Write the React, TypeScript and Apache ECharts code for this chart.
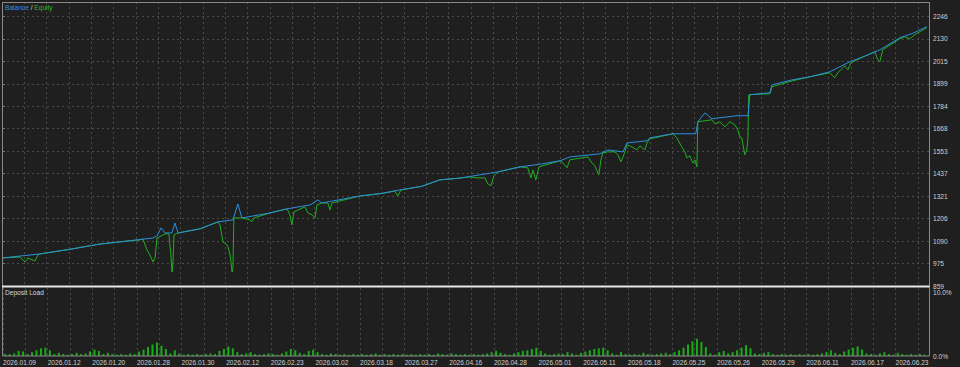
import React, { useEffect, useRef } from "react";
import * as echarts from "echarts";

const dateLabels = [
  "2026.01.09", "2026.01.12", "2026.01.20", "2026.01.28", "2026.01.30", "2026.02.12", "2026.02.23",
  "2026.03.02", "2026.03.18", "2026.03.27", "2026.04.16", "2026.04.28", "2026.05.01", "2026.05.11",
  "2026.05.18", "2026.05.25", "2026.05.26", "2026.05.29", "2026.06.11", "2026.06.17", "2026.06.23",
];

// balance curve: trade position / value
const balTrade = [0, 17, 30, 43.9, 55, 67.6, 69.4, 71.2, 73, 76.1, 77.4, 78.8, 88.6, 96.7, 103.4, 105.6, 107.4, 120, 127.6, 137.9, 141.4, 143.2, 160.2, 170, 178, 188, 196, 205, 214, 222, 232, 241, 249.8, 254.3, 267.7, 271.2, 278, 279.8, 288.7, 290, 300.3, 310.6, 311.5, 314.7, 317.8, 329, 334, 334.8, 343.8, 344.7, 354, 362, 370.6, 379.6, 386, 393, 402, 408, 414];
const balValue = [1003, 1024, 1047, 1075, 1089, 1106, 1116, 1158, 1132, 1132, 1183, 1132, 1153, 1189, 1199, 1281, 1209, 1235, 1256, 1276, 1302, 1286, 1322, 1335, 1353, 1372, 1405, 1414, 1431, 1446, 1472, 1486, 1503, 1523, 1539, 1559, 1549, 1595, 1606, 1621, 1642, 1642, 1704, 1750, 1719, 1735, 1735, 1843, 1853, 1894, 1920, 1936, 1961, 2013, 2040, 2074, 2136, 2160, 2193];

// equity curve: trade position / value
const eqTrade = [0, 8.1, 10.3, 11.6, 14.8, 16.1, 17, 30, 43.9, 48.3, 55, 61.8, 63.1, 64.9, 66.2, 67.6, 68.5, 69.4, 71.2, 73, 74.7, 75.6, 76.1, 76.5, 77, 78.8, 88.6, 96.7, 97.6, 98.9, 100.3, 101.2, 102.1, 102.5, 103, 103.4, 103.8, 107.4, 111, 111.9, 112.8, 120, 127.6, 128.9, 129.8, 130.7, 135.6, 137, 138.8, 140.1, 141, 143.2, 145.9, 146.8, 147.7, 160.2, 170, 175.9, 177.2, 178.6, 188, 196, 205, 209.5, 213.1, 216.2, 217.5, 218.9, 220.2, 222, 231.9, 235.4, 236.8, 237.7, 239, 240.4, 249.8, 251.1, 252.9, 254.2, 262.3, 264.1, 265.4, 267.2, 268.1, 269, 271.2, 274.4, 275.7, 277.1, 278.4, 279.8, 282, 284.2, 285.6, 287.8, 288.7, 290, 300.3, 302.1, 304.3, 305.7, 306.6, 307.9, 309.3, 310.2, 311.1, 311.5, 314.7, 317.8, 319.2, 321.4, 323.6, 325.9, 328.1, 329.4, 330.3, 331.2, 332.5, 333.4, 333.9, 334.3, 343.8, 344.7, 354, 362, 370.6, 372.8, 374.2, 377.3, 378.7, 380, 386, 390.7, 392.1, 393, 394.3, 401.9, 404.2, 406.4, 408.7, 414];
const eqValue = [1003, 1008, 983, 1003, 988, 1019, 1024, 1047, 1075, 1080, 1089, 1096, 1101, 1044, 1019, 983, 1003, 1106, 1116, 1127, 1127, 1019, 931, 967, 1122, 1132, 1153, 1189, 1173, 1086, 1075, 1060, 1019, 983, 931, 952, 1209, 1209, 1199, 1189, 1209, 1235, 1256, 1225, 1173, 1240, 1266, 1235, 1225, 1209, 1276, 1286, 1286, 1250, 1286, 1322, 1335, 1348, 1322, 1353, 1372, 1405, 1414, 1420, 1415, 1415, 1384, 1374, 1426, 1446, 1472, 1467, 1415, 1456, 1405, 1472, 1503, 1492, 1467, 1508, 1523, 1492, 1477, 1431, 1508, 1544, 1549, 1549, 1534, 1498, 1534, 1585, 1575, 1559, 1580, 1559, 1595, 1616, 1642, 1621, 1575, 1549, 1518, 1529, 1492, 1508, 1472, 1704, 1709, 1714, 1693, 1704, 1678, 1704, 1688, 1662, 1626, 1621, 1534, 1559, 1611, 1843, 1848, 1884, 1915, 1936, 1956, 1930, 1956, 1992, 1971, 2007, 2040, 2064, 2023, 2013, 2074, 2131, 2141, 2131, 2152, 2188];

// deposit load %, one bar per two trades
const loadValues = [
  0.3, 0.3, 0.4, 0.8, 0.7, 0.3, 0.6, 0.9, 1.2, 1.3,
  0.9, 0.3, 0.5, 0.3, 0.2, 0.3, 0.5, 0.3, 0.4, 0.7,
  1.0, 0.8, 0.3, 0.5, 0.3, 0.2, 0.3, 0.2, 0.4, 0.3,
  0.7, 1.0, 1.4, 1.8, 2.1, 1.6, 1.1, 0.4, 0.9, 0.4,
  0.2, 0.3, 0.2, 0.3, 0.2, 0.3, 0.4, 0.3, 0.8, 1.1,
  1.5, 1.2, 0.6, 0.3, 0.4, 0.6, 0.3, 0.2, 0.3, 0.4,
  0.3, 0.2, 0.4, 0.7, 1.1, 0.9, 0.5, 0.3, 0.8, 1.0,
  0.6, 0.3, 0.2, 0.4, 0.3, 0.2, 0.3, 0.2, 0.3, 0.2,
  0.3, 0.2, 0.3, 0.4, 0.2, 0.3, 0.2, 0.3, 0.2, 0.3,
  0.2, 0.3, 0.2, 0.3, 0.2, 0.3, 0.2, 0.4, 0.3, 0.2,
  0.4, 0.3, 0.2, 0.3, 0.2, 0.3, 0.2, 0.3, 0.4, 0.6,
  0.8, 0.5, 0.3, 0.2, 0.4, 0.6, 0.8, 0.9, 1.1, 1.3,
  0.8, 0.4, 0.2, 0.3, 0.4, 0.3, 0.6, 0.4, 0.2, 0.5,
  0.7, 0.9, 1.1, 1.2, 1.3, 0.9, 0.4, 0.2, 0.6, 0.3,
  0.2, 0.3, 0.2, 0.5, 0.3, 0.2, 0.3, 0.4, 0.5, 0.3,
  0.6, 0.9, 1.3, 1.8, 2.3, 2.7, 2.2, 1.4, 0.4, 0.2,
  0.6, 0.8, 0.4, 0.6, 0.9, 1.3, 1.7, 1.2, 0.4, 0.3,
  0.5, 0.6, 0.3, 0.2, 0.3, 0.2, 0.3, 0.2, 0.3, 0.2,
  0.3, 0.2, 0.3, 0.4, 0.6, 0.9, 0.5, 0.3, 0.7, 1.0,
  1.3, 1.5, 1.0, 0.4, 0.3, 0.2, 0.4, 0.6, 0.3, 0.2,
  0.5, 0.3, 0.2, 0.3, 0.2, 0.3, 0.2,
];

const FONT = "Liberation Sans";
const BG = "#1f1f1f";
const LABEL = "#cfcfcf";
const GRID = "#4a4a4a";

export default function App() {
  const ref = useRef<HTMLDivElement>(null);

  useEffect(() => {
    document.body.style.margin = "0";
    document.body.style.background = BG;
    const chart = echarts.init(ref.current!, null, { renderer: "svg" });

    const balData = balTrade.map((t, i) => [t, balValue[i]]);
    const eqData = eqTrade.map((t, i) => [t, eqValue[i]]);
    const loadData = loadValues.map((v, i) => [i * 2 + 1, v]);

    const splitLine = { show: true, lineStyle: { color: GRID, type: [2, 3] as any, width: 1 } };

    chart.setOption({
      animation: false,
      backgroundColor: BG,
      grid: [
        { left: 2, top: 2, width: 927, height: 284 },
        { left: 2, top: 288, width: 927, height: 68 },
      ],
      xAxis: [
        {
          gridIndex: 0, type: "value", min: 0, max: 415, interval: 10,
          axisLine: { show: false }, axisTick: { show: false }, axisLabel: { show: false },
          splitLine,
        },
        {
          gridIndex: 1, type: "value", min: 0, max: 415, interval: 10,
          axisLine: { show: false }, axisTick: { show: false },
          splitLine,
          axisLabel: {
            show: true, showMaxLabel: false, showMinLabel: true, align: "left", margin: 3,
            color: LABEL, fontSize: 6.6, fontFamily: FONT,
            formatter: (val: number) => {
              const k = Math.round(val / 10);
              if (k % 2 !== 0) return "";
              return dateLabels[k / 2] ?? "";
            },
          },
        },
      ],
      yAxis: [
        {
          gridIndex: 0, type: "value", position: "right", min: 859, max: 2320, interval: 1387 / 12,
          axisLine: { show: false },
          axisTick: { show: true, length: 3, lineStyle: { color: "#777" } },
          splitLine,
          axisLabel: {
            showMaxLabel: false, margin: 4, color: LABEL, fontSize: 6.6, fontFamily: FONT,
            formatter: (v: number) => String(Math.round(v + 0.01)),
          },
        },
        {
          gridIndex: 1, type: "value", position: "right", min: 0, max: 10.625, interval: 10,
          axisLine: { show: false }, axisTick: { show: false }, splitLine: { show: false },
          axisLabel: {
            showMaxLabel: false, margin: 4, color: LABEL, fontSize: 6.6, fontFamily: FONT,
            formatter: (v: number) => v.toFixed(1) + "%",
          },
        },
      ],
      series: [
        {
          name: "Equity", type: "line", xAxisIndex: 0, yAxisIndex: 0, data: eqData,
          showSymbol: false, lineStyle: { color: "#1fb01f", width: 1 }, z: 2,
        },
        {
          name: "Balance", type: "line", xAxisIndex: 0, yAxisIndex: 0, data: balData,
          showSymbol: false, lineStyle: { color: "#2d8fe0", width: 1 }, z: 3,
        },
        {
          name: "Deposit Load", type: "bar", xAxisIndex: 1, yAxisIndex: 1, data: loadData,
          barWidth: 2, itemStyle: { color: "#1aab1a" },
        },
      ],
      graphic: [
        {
          type: "rect", shape: { x: 2.5, y: 2.5, width: 927, height: 353.5 },
          style: { fill: "none", stroke: "#8a8a8a", lineWidth: 1 }, z: 10, silent: true,
        },
        {
          type: "line", shape: { x1: 2, y1: 286.5, x2: 929.5, y2: 286.5 },
          style: { stroke: "#e8e8e8", lineWidth: 2 }, z: 11, silent: true,
        },
        {
          type: "text", left: 5, top: 4, z: 12, silent: true,
          style: {
            text: "{b|Balance}{s| / }{e|Equity}",
            fontFamily: FONT, fontSize: 6.6,
            rich: {
              b: { fill: "#3a8ee6", fontSize: 6.6, fontFamily: FONT },
              s: { fill: "#d8d8d8", fontSize: 6.6, fontFamily: FONT },
              e: { fill: "#2db52d", fontSize: 6.6, fontFamily: FONT },
            },
          },
        },
        {
          type: "text", left: 5, top: 289, z: 12, silent: true,
          style: { text: "Deposit Load", fill: "#d8d8d8", fontSize: 6.6, fontFamily: FONT },
        },
      ],
    });

    return () => chart.dispose();
  }, []);

  return <div ref={ref} style={{ width: 960, height: 367, background: BG }} />;
}
